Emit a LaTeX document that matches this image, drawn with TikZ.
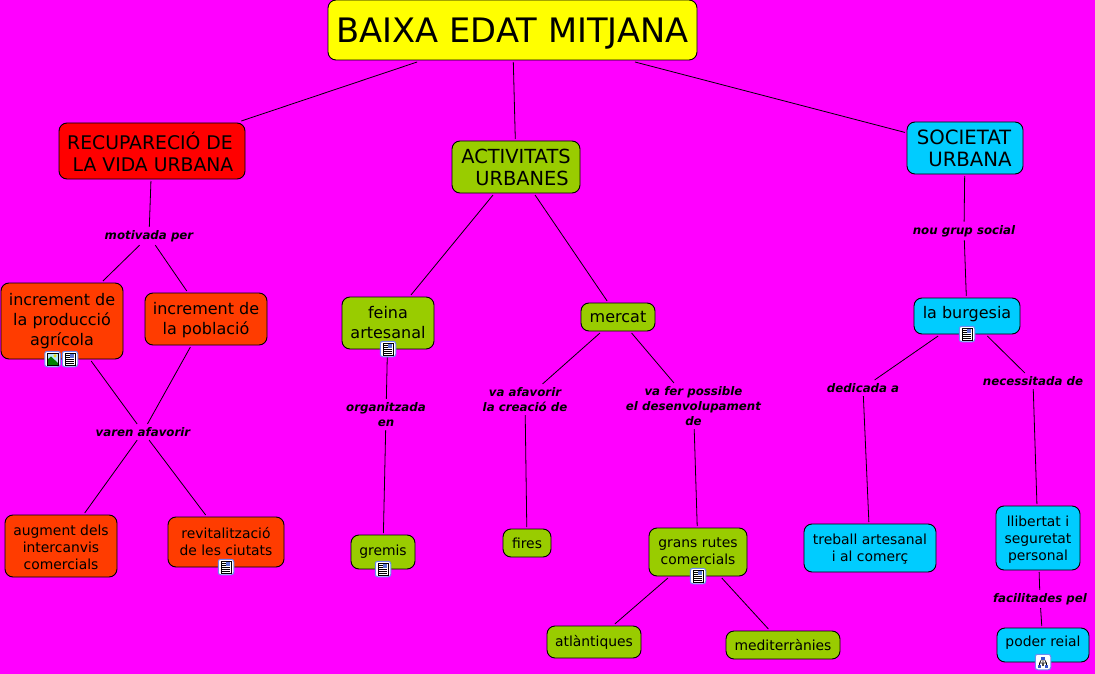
\documentclass[tikz,border=0pt]{standalone}
\usepackage{fontspec}
\setmainfont{DejaVu Sans}
\definecolor{bgm}{HTML}{FF00FF}
\definecolor{yel}{HTML}{FFFF00}
\definecolor{redn}{HTML}{FF0000}
\definecolor{orn}{HTML}{FF3C00}
\definecolor{grn}{HTML}{99CC00}
\definecolor{cyn}{HTML}{00CCFF}
\definecolor{iconblue}{HTML}{3355CC}
\definecolor{iconedge}{HTML}{6A8CF0}
\newcommand\tallline[1]{\rule{0pt}{#1pt}}
\tikzset{
  cbox/.style n args={3}{draw=black,line width=0.9pt,rounded corners=8pt,fill=#1,align=center,inner sep=0pt,
     minimum width=#2pt,minimum height=#3pt,outer sep=2pt,font=\fontsize{13.9}{17}\selectfont},
  caps/.style={font=\fontsize{19.4}{22}\selectfont},
  mid/.style={font=\fontsize{16}{20}\selectfont},
  lab/.style={font=\fontsize{11.8}{15}\selectfont\bfseries\itshape,align=center,inner sep=1pt,outer sep=2.5pt},
  link/.style={draw=black,line width=0.8pt},
  iconframe/.style={draw=iconedge,line width=1pt,fill=white,rounded corners=2.5pt,minimum size=15.5pt,inner sep=0pt},
  pics/docicon/.style={code={
    \node[iconframe] (-f) at (0,0) {};
    \draw[line width=0.7pt,black,fill=white] (-5,-6) rectangle (5,6);
    \fill[iconblue!80] (0.2,-5.2) rectangle (4.2,-1);
    \foreach \yy in {-4,-2,0,2,4}{\draw[line width=0.6pt] (-4,\yy) -- (\ifdim\yy pt<0pt -0.5\else 4\fi,\yy);}
  }},
  pics/imgicon/.style={code={
    \node[iconframe] (-f) at (0,0) {};
    \fill[cyan!30] (-5.5,-6) rectangle (5.5,6);
    \fill[green!50!black] (-5.5,6) -- (-5.5,1) -- (-1.5,-2.5) -- (5.5,4) -- (5.5,6) -- cycle;
    \fill[yellow!90!black] (2.5,-3.2) circle (1.7);
    \draw[line width=0.6pt,black] (-5.5,-6) rectangle (5.5,6);
  }},
  pics/mapicon/.style={code={
    \node[iconframe] (-f) at (0,0) {};
    \draw[line width=0.6pt] (0,-4) -- (0,0) (-3.5,1) -- (3.5,1) (-3.5,1) -- (-3.5,4) (3.5,1) -- (3.5,4) (-1.5,-2.5) -- (-3.5,1) (1.5,-2.5) -- (3.5,1);
    \fill[iconblue] (-1.8,-5.5) rectangle (1.8,-2.5);
    \fill[iconblue] (-5,2.5) rectangle (-2,5.5);
    \fill[iconblue] (2,2.5) rectangle (5,5.5);
    \fill[black!70] (-1.3,1) rectangle (1.3,4);
  }},
}
\begin{document}
\begin{tikzpicture}[x=1pt,y=-1pt]
\useasboundingbox[fill=bgm] (0,0) rectangle (1095,674);
% concepts
\node[cbox={yel}{369}{60},font=\fontsize{33.7}{36}\selectfont] (title) at (512.5,30) {\tallline{31}BAIXA EDAT MITJANA};
\node[cbox={redn}{186}{56},font=\fontsize{18.8}{22}\selectfont] (recup) at (152,151) {\tallline{20}RECUPARECIÓ DE\hspace*{4pt}\\\hspace*{6pt}LA VIDA URBANA\hspace*{4pt}};
\node[cbox={grn}{128}{52},caps] (activ) at (516,167) {ACTIVITATS\\\hspace*{12pt}URBANES};
\node[cbox={cyn}{116}{52},font=\fontsize{19.7}{22}\selectfont] (socie) at (965,148) {SOCIETAT\hspace*{2pt}\\\hspace*{10pt}URBANA};
\node[cbox={orn}{122}{76},mid] (prod) at (62,321) {increment de\\la producció\\agrícola};
\node[cbox={orn}{122}{52},mid] (pobl) at (206,319) {\tallline{15}increment de\\la població};
\node[cbox={grn}{92}{52},mid] (feina) at (388,323) {\raisebox{2pt}{feina}\\\raisebox{2pt}{artesanal}};
\node[cbox={grn}{74}{28},mid] (merc) at (618,317) {mercat};
\node[cbox={cyn}{106}{36},mid] (burg) at (967,316) {\raisebox{8pt}{la burgesia}};
\node[cbox={orn}{112}{62}] (augm) at (61,546) {\tallline{13.5}augment dels\\intercanvis\\comercials};
\node[cbox={orn}{116}{50}] (revi) at (226,542) {revitalització\\de les ciutats};
\node[cbox={grn}{64}{34}] (grem) at (383,552) {\raisebox{3pt}{gremis}};
\node[cbox={grn}{48}{28}] (fire) at (527,543) {fires};
\node[cbox={grn}{98}{48}] (rutes) at (698,552) {\raisebox{2pt}{grans rutes}\\\raisebox{2pt}{comercials}};
\node[cbox={grn}{94}{32}] (atla) at (594,642) {\raisebox{1pt}{atlàntiques}};
\node[cbox={grn}{114}{28}] (medi) at (783,645) {mediterrànies};
\node[cbox={cyn}{132}{48}] (treb) at (870,548) {\tallline{13.5}treball artesanal\\i al comerç};
\node[cbox={cyn}{84}{64}] (llib) at (1038,538) {\tallline{13.5}llibertat i\\seguretat\\personal};
\node[cbox={cyn}{92}{34}] (pode) at (1043,645) {\raisebox{8pt}{poder reial}};
% linking phrases
\node[lab] (l1) at (149,236) {motivada per};
\node[lab] (l2) at (143,432) {varen afavorir};
\node[lab] (l3) at (386,414.5) {organitzada\\en};
\node[lab] (l4) at (525,399.5) {va afavorir\\la creació de};
\node[lab] (l5) at (693.5,406) {va fer possible\\el desenvolupament\\de};
\node[lab] (l6) at (964,231) {nou grup social};
\node[lab] (l7) at (863,388) {dedicada a};
\node[lab] (l8) at (1033,381) {necessitada de};
\node[lab] (l9) at (1040,599) {facilitades pel};
% connectors
\draw[link] (title) -- (recup);
\draw[link] (title) -- (activ);
\draw[link] (title) -- (socie);
\draw[link] (recup) -- (l1);
\draw[link] (l1) -- (prod);
\draw[link] (l1) -- (pobl);
\draw[link] (prod) -- (l2);
\draw[link] (pobl) -- (l2);
\draw[link] (l2) -- (augm);
\draw[link] (l2) -- (revi);
\draw[link] (activ) -- (feina);
\draw[link] (activ) -- (merc);
\draw[link] (feina) -- (l3);
\draw[link] (l3) -- (grem);
\draw[link] (merc) -- (l4);
\draw[link] (merc) -- (l5);
\draw[link] (l4) -- (fire);
\draw[link] (l5) -- (rutes);
\draw[link] (rutes) -- (atla);
\draw[link] (rutes) -- (medi);
\draw[link] (socie) -- (l6);
\draw[link] (l6) -- (burg);
\draw[link] (burg) -- (l7);
\draw[link] (burg) -- (l8);
\draw[link] (l7) -- (treb);
\draw[link] (l8) -- (llib);
\draw[link] (llib) -- (l9);
\draw[link] (l9) -- (pode);
% resource icons
\pic (i1) at (52.5,359) {imgicon};
\pic (i2) at (70,359) {docicon};
\pic (i3) at (388,349) {docicon};
\pic (i4) at (967,334) {docicon};
\pic (i5) at (226,567) {docicon};
\pic (i6) at (383,569) {docicon};
\pic (i7) at (698,576) {docicon};
\pic (i8) at (1043,662) {mapicon};
\end{tikzpicture}
\end{document}
